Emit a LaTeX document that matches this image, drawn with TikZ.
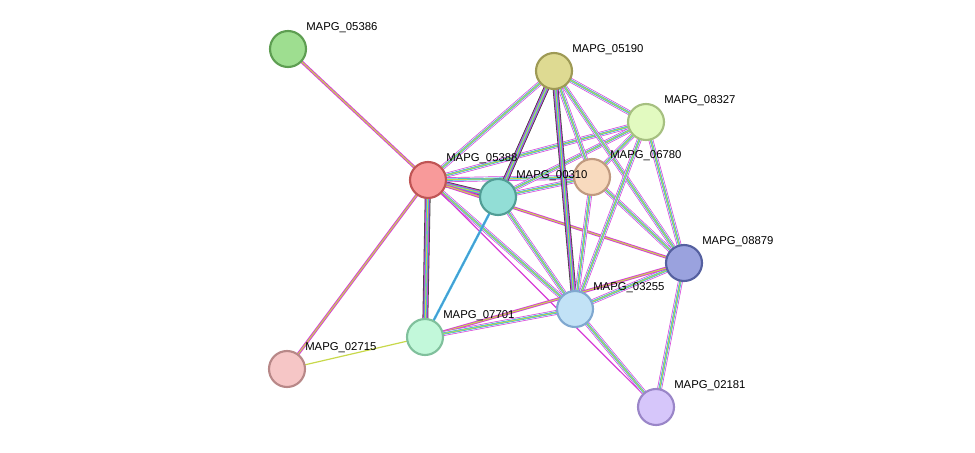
\documentclass[tikz,border=0pt]{standalone}
\usepackage{fontspec}
\setmainfont{Liberation Sans}
\usetikzlibrary{calc}
\definecolor{Mg}{HTML}{D63CD6}
\definecolor{Cy}{HTML}{3CB8E0}
\definecolor{Yg}{HTML}{C8D84A}
\definecolor{Kk}{HTML}{444444}
\definecolor{Bl}{HTML}{5090D0}
\begin{document}
\begin{tikzpicture}[x=0.75pt,y=-0.75pt,
 prot/.style={circle,minimum size=27pt,inner sep=0pt,line width=1.6pt},
 lab/.style={anchor=west,font=\fontsize{8.5}{10}\selectfont,inner sep=0pt},
 ecm/.style={line width=3.6pt,draw=Mg,postaction={draw=white,line width=2.6pt},postaction={draw=Cy,line width=1.8pt},postaction={draw=Yg,line width=0.7pt}},
 emy/.style={line width=2.2pt,draw=Mg,postaction={draw=Yg,line width=0.8pt}},
 ekcm/.style={line width=4.4pt,draw=Kk,postaction={draw=Mg,line width=3.2pt},postaction={draw=Cy,line width=1.9pt},postaction={draw=Yg,line width=0.7pt}},
 eyo/.style={line width=0.9pt,draw=Yg},
 emo/.style={line width=0.9pt,draw=Mg},
 ecb/.style={line width=1.8pt,draw=Cy,postaction={draw=Bl,line width=0.6pt}}]
\useasboundingbox (0,0) rectangle (975,453);
\coordinate (p05386) at (288,49);
\coordinate (p05190) at (554,71);
\coordinate (p08327) at (646,122);
\coordinate (p05388) at (428,180);
\coordinate (p00310) at (498,197);
\coordinate (p06780) at (592,177);
\coordinate (p08879) at (684,263);
\coordinate (p03255) at (575,309);
\coordinate (p07701) at (425,337);
\coordinate (p02715) at (287,369);
\coordinate (p02181) at (656,407);
\foreach \a/\b/\s in {05388/05386/emy,05388/02715/emy,02715/07701/eyo,05388/07701/ekcm,05388/00310/ekcm,
 05388/05190/ecm,05388/08327/ecm,05388/06780/ecm,05388/08879/emy,05388/03255/ecm,05388/02181/emo,
 00310/05190/ekcm,00310/08327/ecm,00310/06780/ecm,00310/07701/ecb,00310/03255/ecm,
 05190/08327/ecm,05190/06780/ecm,05190/03255/ekcm,05190/08879/ecm,06780/08327/ecm,06780/03255/ecm,
 06780/08879/ecm,08327/03255/ecm,08327/08879/ecm,08879/03255/ecm,08879/07701/emy,08879/02181/ecm,
 03255/07701/ecm,03255/02181/ecm}
 \path[\s] (p\a) -- (p\b);
\foreach \n/\f/\d in {05386/9EDE90/5E9E52,05190/DEDA92/9E9A55,
 08327/E2FAC0/A6C080,05388/F89A9A/C05555,00310/92DED6/529E96,
 06780/F8DABE/C09A80,08879/9AA2DE/5560A0,03255/C2E2F6/80A8D0,
 07701/C2F8DA/80C09C,02715/F6C6C6/B88888,02181/D6C6FA/9A86C8}{
 \definecolor{f}{HTML}{\f}\definecolor{d}{HTML}{\d}
 \node[prot,fill=f,draw=d] (n\n) at (p\n) {};
}
\foreach \n in {05386,05190,08327,05388,00310,06780,08879,03255,07701,02715,02181}
 \node[lab] (l\n) at ($(p\n)+(18,-21)$) {MAPG\_\n};
\end{tikzpicture}
\end{document}
